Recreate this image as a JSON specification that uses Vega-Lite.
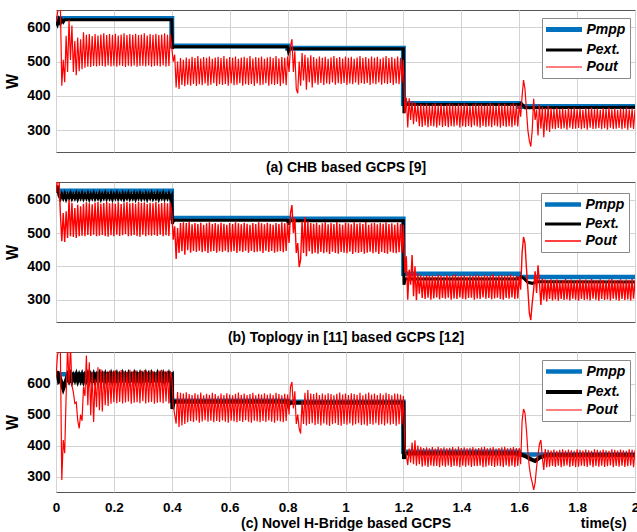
{
"$schema": "https://vega.github.io/schema/vega-lite/v6.json",
"padding": {"left": 4, "top": 9, "right": 0, "bottom": 0},
"background": "white",
"spacing": 30,
"bounds": "flush",
"datasets": {
"red": [
{"t":0,"a":615,"b":620,"c":620},{"t":0.005,"a":640,"b":660,"c":690},{"t":0.01,"a":665,"b":672,"c":720},{"t":0.015,"a":670,"b":560,"c":720},{"t":0.02,"a":430,"b":475,"c":289},{"t":0.025,"a":505,"b":560,"c":418},{"t":0.03,"a":440,"b":473,"c":375},{"t":0.035,"a":575,"b":565,"c":560},{"t":0.04,"a":470,"b":485,"c":720},{"t":0.045,"a":620,"b":600,"c":600},
{"t":0.05,"a":505,"b":490,"c":720},{"t":0.055,"a":605,"b":590,"c":595},{"t":0.06,"a":470,"b":488,"c":572},{"t":0.065,"a":560,"b":575,"c":536},{"t":0.07,"a":460,"b":485,"c":540},{"t":0.075,"a":570,"b":585,"c":482},{"t":0.08,"a":472,"b":490,"c":455},{"t":0.085,"a":565,"b":580,"c":500},{"t":0.09,"a":478,"b":492,"c":480},{"t":0.095,"a":585,"b":588,"c":589},
{"t":0.1,"a":482,"b":490,"c":560},{"t":0.105,"a":578,"b":592,"c":691},{"t":0.11,"a":485,"b":494,"c":530},{"t":0.115,"a":580,"b":589,"c":669},{"t":0.12,"a":484,"b":491,"c":498},{"t":0.125,"a":574,"b":586,"c":637},{"t":0.13,"a":487,"b":495,"c":476},{"t":0.135,"a":580,"b":591,"c":614},{"t":0.14,"a":486,"b":490,"c":524},{"t":0.145,"a":576,"b":593,"c":653},
{"t":0.15,"a":488,"b":492,"c":514},{"t":0.155,"a":579,"b":588,"c":646},{"t":0.16,"a":487,"b":494,"c":510},{"t":0.165,"a":582,"b":590,"c":640},{"t":0.17,"a":485,"b":491,"c":530},{"t":0.175,"a":577,"b":594,"c":636},{"t":0.18,"a":489,"b":489,"c":528},{"t":0.185,"a":580,"b":589,"c":642},{"t":0.19,"a":486,"b":493,"c":535},{"t":0.195,"a":578,"b":591,"c":639},
{"t":0.2,"a":488,"b":490,"c":540},{"t":0.205,"a":581,"b":588,"c":643},{"t":0.21,"a":485,"b":495,"c":537},{"t":0.215,"a":576,"b":592,"c":638},{"t":0.22,"a":489,"b":491,"c":541},{"t":0.225,"a":579,"b":587,"c":644},{"t":0.23,"a":487,"b":493,"c":536},{"t":0.235,"a":582,"b":590,"c":640},{"t":0.24,"a":484,"b":496,"c":539},{"t":0.245,"a":577,"b":593,"c":637},
{"t":0.25,"a":488,"b":490,"c":542},{"t":0.255,"a":580,"b":589,"c":645},{"t":0.26,"a":486,"b":492,"c":535},{"t":0.265,"a":578,"b":591,"c":639},{"t":0.27,"a":489,"b":494,"c":538},{"t":0.275,"a":581,"b":588,"c":642},{"t":0.28,"a":485,"b":491,"c":540},{"t":0.285,"a":577,"b":594,"c":636},{"t":0.29,"a":487,"b":489,"c":537},{"t":0.295,"a":579,"b":590,"c":641},
{"t":0.3,"a":488,"b":495,"c":543},{"t":0.305,"a":582,"b":592,"c":644},{"t":0.31,"a":486,"b":490,"c":536},{"t":0.315,"a":576,"b":587,"c":638},{"t":0.32,"a":489,"b":493,"c":539},{"t":0.325,"a":580,"b":591,"c":643},{"t":0.33,"a":485,"b":492,"c":541},{"t":0.335,"a":578,"b":589,"c":640},{"t":0.34,"a":487,"b":494,"c":535},{"t":0.345,"a":581,"b":593,"c":637},
{"t":0.35,"a":488,"b":491,"c":538},{"t":0.355,"a":577,"b":588,"c":642},{"t":0.36,"a":486,"b":495,"c":540},{"t":0.365,"a":579,"b":590,"c":645},{"t":0.37,"a":489,"b":490,"c":537},{"t":0.375,"a":582,"b":592,"c":639},{"t":0.38,"a":485,"b":493,"c":542},{"t":0.385,"a":578,"b":589,"c":641},{"t":0.39,"a":487,"b":491,"c":536},{"t":0.395,"a":580,"b":591,"c":640},
{"t":0.4,"a":540,"b":560,"c":620},{"t":0.405,"a":500,"b":480,"c":530},{"t":0.41,"a":520,"b":520,"c":500},{"t":0.415,"a":425,"b":422,"c":471},{"t":0.42,"a":500,"b":515,"c":573},{"t":0.425,"a":420,"b":440,"c":460},{"t":0.43,"a":510,"b":530,"c":570},{"t":0.435,"a":432,"b":445,"c":465},{"t":0.44,"a":505,"b":532,"c":568},{"t":0.445,"a":428,"b":435,"c":470},
{"t":0.45,"a":512,"b":530,"c":572},{"t":0.455,"a":433,"b":448,"c":475},{"t":0.46,"a":508,"b":533,"c":566},{"t":0.465,"a":430,"b":441,"c":479},{"t":0.47,"a":514,"b":526,"c":563},{"t":0.475,"a":435,"b":446,"c":476},{"t":0.48,"a":510,"b":530,"c":569},{"t":0.485,"a":429,"b":443,"c":481},{"t":0.49,"a":516,"b":527,"c":565},{"t":0.495,"a":434,"b":447,"c":474},
{"t":0.5,"a":509,"b":531,"c":571},{"t":0.505,"a":431,"b":442,"c":478},{"t":0.51,"a":513,"b":525,"c":562},{"t":0.515,"a":436,"b":445,"c":482},{"t":0.52,"a":511,"b":529,"c":567},{"t":0.525,"a":430,"b":440,"c":477},{"t":0.53,"a":515,"b":532,"c":564},{"t":0.535,"a":433,"b":444,"c":480},{"t":0.54,"a":508,"b":527,"c":570},{"t":0.545,"a":437,"b":446,"c":475},
{"t":0.55,"a":512,"b":530,"c":566},{"t":0.555,"a":429,"b":441,"c":479},{"t":0.56,"a":514,"b":526,"c":561},{"t":0.565,"a":434,"b":445,"c":476},{"t":0.57,"a":510,"b":531,"c":568},{"t":0.575,"a":432,"b":443,"c":481},{"t":0.58,"a":516,"b":528,"c":563},{"t":0.585,"a":435,"b":447,"c":477},{"t":0.59,"a":509,"b":525,"c":569},{"t":0.595,"a":430,"b":442,"c":474},
{"t":0.6,"a":513,"b":530,"c":565},{"t":0.605,"a":436,"b":444,"c":480},{"t":0.61,"a":511,"b":527,"c":562},{"t":0.615,"a":431,"b":446,"c":478},{"t":0.62,"a":515,"b":532,"c":567},{"t":0.625,"a":433,"b":440,"c":475},{"t":0.63,"a":508,"b":529,"c":571},{"t":0.635,"a":437,"b":445,"c":479},{"t":0.64,"a":512,"b":526,"c":564},{"t":0.645,"a":430,"b":443,"c":476},
{"t":0.65,"a":514,"b":531,"c":568},{"t":0.655,"a":434,"b":447,"c":482},{"t":0.66,"a":510,"b":528,"c":563},{"t":0.665,"a":432,"b":441,"c":477},{"t":0.67,"a":516,"b":525,"c":566},{"t":0.675,"a":435,"b":446,"c":474},{"t":0.68,"a":509,"b":530,"c":570},{"t":0.685,"a":429,"b":442,"c":480},{"t":0.69,"a":513,"b":527,"c":562},{"t":0.695,"a":436,"b":444,"c":478},
{"t":0.7,"a":511,"b":532,"c":567},{"t":0.705,"a":431,"b":445,"c":475},{"t":0.71,"a":515,"b":529,"c":565},{"t":0.715,"a":433,"b":440,"c":479},{"t":0.72,"a":508,"b":526,"c":569},{"t":0.725,"a":437,"b":447,"c":476},{"t":0.73,"a":512,"b":531,"c":564},{"t":0.735,"a":430,"b":443,"c":481},{"t":0.74,"a":514,"b":528,"c":568},{"t":0.745,"a":434,"b":446,"c":477},
{"t":0.75,"a":510,"b":525,"c":563},{"t":0.755,"a":432,"b":441,"c":474},{"t":0.76,"a":516,"b":530,"c":570},{"t":0.765,"a":435,"b":444,"c":480},{"t":0.77,"a":509,"b":527,"c":566},{"t":0.775,"a":429,"b":445,"c":478},{"t":0.78,"a":513,"b":532,"c":562},{"t":0.785,"a":436,"b":442,"c":475},{"t":0.79,"a":511,"b":529,"c":567},{"t":0.795,"a":431,"b":446,"c":479},
{"t":0.8,"a":515,"b":530,"c":565},{"t":0.805,"a":470,"b":470,"c":500},{"t":0.81,"a":545,"b":560,"c":590},{"t":0.815,"a":565,"b":584,"c":605},{"t":0.82,"a":470,"b":500,"c":520},{"t":0.825,"a":530,"b":545,"c":575},{"t":0.83,"a":420,"b":440,"c":470},{"t":0.835,"a":408,"b":470,"c":500},{"t":0.84,"a":500,"b":398,"c":455},{"t":0.845,"a":430,"b":420,"c":439},
{"t":0.85,"a":525,"b":535,"c":545},{"t":0.855,"a":445,"b":440,"c":470},{"t":0.86,"a":520,"b":548,"c":570},{"t":0.865,"a":418,"b":430,"c":465},{"t":0.87,"a":512,"b":535,"c":579},{"t":0.875,"a":440,"b":445,"c":470},{"t":0.88,"a":518,"b":530,"c":568},{"t":0.885,"a":425,"b":438,"c":472},{"t":0.89,"a":513,"b":528,"c":566},{"t":0.895,"a":437,"b":441,"c":466},
{"t":0.9,"a":509,"b":531,"c":570},{"t":0.905,"a":433,"b":438,"c":470},{"t":0.91,"a":515,"b":525,"c":563},{"t":0.915,"a":438,"b":443,"c":465},{"t":0.92,"a":511,"b":529,"c":568},{"t":0.925,"a":432,"b":439,"c":471},{"t":0.93,"a":514,"b":532,"c":564},{"t":0.935,"a":436,"b":442,"c":467},{"t":0.94,"a":508,"b":526,"c":569},{"t":0.945,"a":434,"b":437,"c":463},
{"t":0.95,"a":512,"b":530,"c":566},{"t":0.955,"a":439,"b":444,"c":469},{"t":0.96,"a":516,"b":527,"c":562},{"t":0.965,"a":433,"b":440,"c":472},{"t":0.97,"a":510,"b":533,"c":567},{"t":0.975,"a":437,"b":438,"c":466},{"t":0.98,"a":513,"b":528,"c":571},{"t":0.985,"a":435,"b":443,"c":464},{"t":0.99,"a":509,"b":525,"c":565},{"t":0.995,"a":438,"b":441,"c":470},
{"t":1,"a":515,"b":531,"c":568},{"t":1.005,"a":432,"b":439,"c":467},{"t":1.01,"a":511,"b":529,"c":563},{"t":1.015,"a":436,"b":444,"c":471},{"t":1.02,"a":514,"b":526,"c":569},{"t":1.025,"a":434,"b":437,"c":465},{"t":1.03,"a":508,"b":532,"c":566},{"t":1.035,"a":439,"b":442,"c":469},{"t":1.04,"a":512,"b":528,"c":564},{"t":1.045,"a":433,"b":440,"c":472},
{"t":1.05,"a":516,"b":530,"c":570},{"t":1.055,"a":437,"b":443,"c":466},{"t":1.06,"a":510,"b":527,"c":562},{"t":1.065,"a":435,"b":438,"c":468},{"t":1.07,"a":513,"b":533,"c":567},{"t":1.075,"a":438,"b":441,"c":464},{"t":1.08,"a":509,"b":525,"c":571},{"t":1.085,"a":432,"b":444,"c":470},{"t":1.09,"a":515,"b":529,"c":565},{"t":1.095,"a":436,"b":439,"c":467},
{"t":1.1,"a":511,"b":531,"c":568},{"t":1.105,"a":434,"b":442,"c":472},{"t":1.11,"a":514,"b":526,"c":563},{"t":1.115,"a":439,"b":437,"c":466},{"t":1.12,"a":508,"b":530,"c":569},{"t":1.125,"a":433,"b":443,"c":469},{"t":1.13,"a":512,"b":528,"c":564},{"t":1.135,"a":437,"b":440,"c":465},{"t":1.14,"a":516,"b":532,"c":570},{"t":1.145,"a":435,"b":438,"c":471},
{"t":1.15,"a":510,"b":527,"c":566},{"t":1.155,"a":438,"b":444,"c":467},{"t":1.16,"a":513,"b":529,"c":562},{"t":1.165,"a":432,"b":441,"c":470},{"t":1.17,"a":509,"b":525,"c":568},{"t":1.175,"a":436,"b":439,"c":464},{"t":1.18,"a":515,"b":531,"c":567},{"t":1.185,"a":434,"b":442,"c":469},{"t":1.19,"a":511,"b":528,"c":565},{"t":1.195,"a":439,"b":440,"c":468},
{"t":1.2,"a":505,"b":525,"c":560},{"t":1.205,"a":350,"b":380,"c":400},{"t":1.21,"a":395,"b":430,"c":370},{"t":1.215,"a":308,"b":300,"c":337},{"t":1.22,"a":393,"b":390,"c":390},{"t":1.225,"a":330,"b":345,"c":345},{"t":1.23,"a":385,"b":434,"c":410},{"t":1.235,"a":318,"b":310,"c":340},{"t":1.24,"a":380,"b":400,"c":417},{"t":1.245,"a":325,"b":298,"c":335},
{"t":1.25,"a":375,"b":380,"c":400},{"t":1.255,"a":312,"b":318,"c":340},{"t":1.26,"a":377,"b":372,"c":395},{"t":1.265,"a":310,"b":305,"c":332},{"t":1.27,"a":374,"b":370,"c":392},{"t":1.275,"a":314,"b":302,"c":335},{"t":1.28,"a":378,"b":374,"c":394},{"t":1.285,"a":309,"b":306,"c":331},{"t":1.29,"a":373,"b":371,"c":391},{"t":1.295,"a":313,"b":300,"c":336},
{"t":1.3,"a":376,"b":373,"c":395},{"t":1.305,"a":311,"b":304,"c":333},{"t":1.31,"a":379,"b":369,"c":390},{"t":1.315,"a":308,"b":307,"c":334},{"t":1.32,"a":374,"b":375,"c":396},{"t":1.325,"a":314,"b":301,"c":330},{"t":1.33,"a":377,"b":372,"c":392},{"t":1.335,"a":310,"b":305,"c":335},{"t":1.34,"a":372,"b":370,"c":394},{"t":1.345,"a":313,"b":303,"c":332},
{"t":1.35,"a":376,"b":374,"c":391},{"t":1.355,"a":309,"b":306,"c":336},{"t":1.36,"a":378,"b":371,"c":393},{"t":1.365,"a":312,"b":300,"c":331},{"t":1.37,"a":375,"b":373,"c":395},{"t":1.375,"a":311,"b":304,"c":334},{"t":1.38,"a":373,"b":376,"c":390},{"t":1.385,"a":314,"b":302,"c":333},{"t":1.39,"a":377,"b":370,"c":396},{"t":1.395,"a":308,"b":307,"c":330},
{"t":1.4,"a":374,"b":372,"c":392},{"t":1.405,"a":312,"b":303,"c":335},{"t":1.41,"a":379,"b":374,"c":394},{"t":1.415,"a":310,"b":301,"c":332},{"t":1.42,"a":376,"b":369,"c":391},{"t":1.425,"a":313,"b":305,"c":336},{"t":1.43,"a":372,"b":373,"c":393},{"t":1.435,"a":309,"b":306,"c":331},{"t":1.44,"a":375,"b":371,"c":395},{"t":1.445,"a":314,"b":300,"c":334},
{"t":1.45,"a":378,"b":375,"c":390},{"t":1.455,"a":311,"b":304,"c":333},{"t":1.46,"a":374,"b":372,"c":392},{"t":1.465,"a":308,"b":302,"c":335},{"t":1.47,"a":377,"b":370,"c":394},{"t":1.475,"a":313,"b":307,"c":330},{"t":1.48,"a":373,"b":374,"c":396},{"t":1.485,"a":310,"b":303,"c":332},{"t":1.49,"a":376,"b":371,"c":391},{"t":1.495,"a":312,"b":305,"c":336},
{"t":1.5,"a":379,"b":373,"c":393},{"t":1.505,"a":309,"b":301,"c":334},{"t":1.51,"a":375,"b":376,"c":395},{"t":1.515,"a":314,"b":304,"c":331},{"t":1.52,"a":372,"b":370,"c":390},{"t":1.525,"a":311,"b":306,"c":335},{"t":1.53,"a":378,"b":372,"c":392},{"t":1.535,"a":308,"b":302,"c":333},{"t":1.54,"a":374,"b":374,"c":394},{"t":1.545,"a":313,"b":300,"c":330},
{"t":1.55,"a":377,"b":371,"c":396},{"t":1.555,"a":310,"b":305,"c":336},{"t":1.56,"a":373,"b":373,"c":391},{"t":1.565,"a":312,"b":303,"c":332},{"t":1.57,"a":376,"b":375,"c":393},{"t":1.575,"a":309,"b":307,"c":335},{"t":1.58,"a":379,"b":370,"c":395},{"t":1.585,"a":314,"b":302,"c":331},{"t":1.59,"a":375,"b":372,"c":392},{"t":1.595,"a":311,"b":304,"c":334},
{"t":1.6,"a":372,"b":370,"c":392},{"t":1.605,"a":340,"b":330,"c":340},{"t":1.61,"a":400,"b":440,"c":480},{"t":1.615,"a":446,"b":488,"c":518},{"t":1.62,"a":420,"b":470,"c":505},{"t":1.625,"a":360,"b":395,"c":450},{"t":1.63,"a":300,"b":330,"c":380},{"t":1.635,"a":270,"b":260,"c":330},{"t":1.64,"a":253,"b":239,"c":300},{"t":1.645,"a":300,"b":290,"c":280},
{"t":1.65,"a":392,"b":330,"c":257},{"t":1.655,"a":330,"b":385,"c":280},{"t":1.66,"a":360,"b":320,"c":330},{"t":1.665,"a":285,"b":403,"c":370},{"t":1.67,"a":375,"b":350,"c":405},{"t":1.675,"a":305,"b":284,"c":418},{"t":1.68,"a":368,"b":363,"c":360},{"t":1.685,"a":280,"b":300,"c":321},{"t":1.69,"a":365,"b":360,"c":389},{"t":1.695,"a":300,"b":295,"c":330},
{"t":1.7,"a":372,"b":358,"c":386},{"t":1.705,"a":295,"b":302,"c":332},{"t":1.71,"a":365,"b":361,"c":384},{"t":1.715,"a":305,"b":298,"c":334},{"t":1.72,"a":362,"b":357,"c":387},{"t":1.725,"a":303,"b":301,"c":331},{"t":1.73,"a":366,"b":360,"c":383},{"t":1.735,"a":307,"b":297,"c":335},{"t":1.74,"a":361,"b":356,"c":386},{"t":1.745,"a":304,"b":302,"c":330},
{"t":1.75,"a":364,"b":359,"c":388},{"t":1.755,"a":306,"b":299,"c":333},{"t":1.76,"a":360,"b":362,"c":384},{"t":1.765,"a":302,"b":301,"c":336},{"t":1.77,"a":365,"b":357,"c":387},{"t":1.775,"a":308,"b":298,"c":331},{"t":1.78,"a":362,"b":360,"c":385},{"t":1.785,"a":304,"b":303,"c":334},{"t":1.79,"a":366,"b":356,"c":383},{"t":1.795,"a":305,"b":300,"c":330},
{"t":1.8,"a":361,"b":359,"c":388},{"t":1.805,"a":307,"b":297,"c":332},{"t":1.81,"a":364,"b":361,"c":386},{"t":1.815,"a":303,"b":302,"c":335},{"t":1.82,"a":360,"b":357,"c":384},{"t":1.825,"a":306,"b":299,"c":333},{"t":1.83,"a":365,"b":360,"c":387},{"t":1.835,"a":302,"b":301,"c":331},{"t":1.84,"a":362,"b":356,"c":385},{"t":1.845,"a":308,"b":298,"c":336},
{"t":1.85,"a":366,"b":362,"c":383},{"t":1.855,"a":304,"b":303,"c":330},{"t":1.86,"a":361,"b":358,"c":388},{"t":1.865,"a":305,"b":300,"c":334},{"t":1.87,"a":364,"b":357,"c":386},{"t":1.875,"a":307,"b":297,"c":332},{"t":1.88,"a":360,"b":361,"c":384},{"t":1.885,"a":303,"b":302,"c":335},{"t":1.89,"a":365,"b":359,"c":387},{"t":1.895,"a":306,"b":299,"c":331},
{"t":1.9,"a":362,"b":356,"c":385},{"t":1.905,"a":302,"b":301,"c":333},{"t":1.91,"a":366,"b":360,"c":383},{"t":1.915,"a":308,"b":298,"c":336},{"t":1.92,"a":361,"b":362,"c":388},{"t":1.925,"a":304,"b":303,"c":330},{"t":1.93,"a":364,"b":357,"c":386},{"t":1.935,"a":305,"b":300,"c":334},{"t":1.94,"a":360,"b":359,"c":384},{"t":1.945,"a":307,"b":297,"c":332},
{"t":1.95,"a":365,"b":361,"c":387},{"t":1.955,"a":303,"b":302,"c":335},{"t":1.96,"a":362,"b":356,"c":385},{"t":1.965,"a":306,"b":299,"c":331},{"t":1.97,"a":366,"b":360,"c":383},{"t":1.975,"a":302,"b":301,"c":333},{"t":1.98,"a":361,"b":358,"c":388},{"t":1.985,"a":308,"b":298,"c":336},{"t":1.99,"a":364,"b":362,"c":386},{"t":1.995,"a":304,"b":303,"c":330},
{"t":2,"a":360,"b":357,"c":385}
],
"ampp": [{"t":0,"v":625},{"t":0.4,"v":625},{"t":0.4,"v":545},{"t":0.8,"v":545},{"t":0.8,"v":539},{"t":1.2,"v":539},{"t":1.2,"v":378},{"t":1.6,"v":378},{"t":1.6,"v":369},{"t":2,"v":369}],
"aext": [{"t":0,"v":618},{"t":0.005,"v":608},{"t":0.01,"v":622},{"t":0.015,"v":611},{"t":0.02,"v":621},{"t":0.025,"v":615},{"t":0.03,"v":622},{"t":0.4,"v":622},{"t":0.402,"v":538},{"t":0.405,"v":543},{"t":0.8,"v":543},{"t":0.803,"v":530},{"t":0.806,"v":537},{"t":1.2,"v":537},{"t":1.202,"v":350},{"t":1.206,"v":375},{"t":1.6,"v":375},{"t":1.607,"v":379},{"t":1.62,"v":366},{"t":2,"v":367}],
"bmpp": [{"t":0,"v":627},{"t":0.4,"v":627},{"t":0.4,"v":545},{"t":0.8,"v":545},{"t":0.8,"v":543},{"t":1.2,"v":543},{"t":1.2,"v":378},{"t":1.6,"v":378},{"t":1.6,"v":368},{"t":2,"v":368}],
"bext": [{"t":0,"v":625},{"t":0.005,"v":642},{"t":0.01,"v":614},{"t":0.015,"v":604},{"t":0.02,"v":616},{"t":0.025,"v":605},{"t":0.03,"v":617},{"t":0.035,"v":603},{"t":0.04,"v":615},{"t":0.045,"v":606},{"t":0.05,"v":618},{"t":0.055,"v":604},{"t":0.06,"v":615},{"t":0.065,"v":605},{"t":0.07,"v":617},{"t":0.075,"v":603},{"t":0.08,"v":616},{"t":0.085,"v":606},{"t":0.09,"v":618},{"t":0.095,"v":604},{"t":0.1,"v":615},{"t":0.105,"v":605},{"t":0.11,"v":617},{"t":0.115,"v":603},{"t":0.12,"v":616},{"t":0.125,"v":606},{"t":0.13,"v":618},{"t":0.135,"v":604},{"t":0.14,"v":615},{"t":0.145,"v":605},{"t":0.15,"v":617},{"t":0.155,"v":603},{"t":0.16,"v":616},{"t":0.165,"v":606},{"t":0.17,"v":618},{"t":0.175,"v":604},{"t":0.18,"v":615},{"t":0.185,"v":605},{"t":0.19,"v":617},{"t":0.195,"v":603},{"t":0.2,"v":616},{"t":0.205,"v":606},{"t":0.21,"v":618},{"t":0.215,"v":604},{"t":0.22,"v":615},{"t":0.225,"v":605},{"t":0.23,"v":617},{"t":0.235,"v":603},{"t":0.24,"v":616},{"t":0.245,"v":606},{"t":0.25,"v":618},{"t":0.255,"v":604},{"t":0.26,"v":615},{"t":0.265,"v":605},{"t":0.27,"v":617},{"t":0.275,"v":603},{"t":0.28,"v":616},{"t":0.285,"v":606},{"t":0.29,"v":618},{"t":0.295,"v":604},{"t":0.3,"v":615},{"t":0.305,"v":605},{"t":0.31,"v":617},{"t":0.315,"v":603},{"t":0.32,"v":616},{"t":0.325,"v":606},{"t":0.33,"v":618},{"t":0.335,"v":604},{"t":0.34,"v":615},{"t":0.345,"v":605},{"t":0.35,"v":617},{"t":0.355,"v":603},{"t":0.36,"v":616},{"t":0.365,"v":606},{"t":0.37,"v":618},{"t":0.375,"v":604},{"t":0.38,"v":615},{"t":0.385,"v":605},{"t":0.39,"v":617},{"t":0.395,"v":604},{"t":0.4,"v":612},{"t":0.402,"v":528},{"t":0.406,"v":538},{"t":0.8,"v":538},{"t":0.803,"v":525},{"t":0.807,"v":537},{"t":1.2,"v":537},{"t":1.202,"v":345},{"t":1.206,"v":362},{"t":1.6,"v":362},{"t":1.606,"v":369},{"t":1.615,"v":365},{"t":1.63,"v":352},{"t":1.645,"v":349},{"t":1.66,"v":354},{"t":2,"v":353}],
"cmpp": [{"t":0,"v":630},{"t":0.4,"v":630},{"t":0.4,"v":545},{"t":0.8,"v":545},{"t":0.8,"v":541},{"t":1.2,"v":541},{"t":1.2,"v":380},{"t":1.6,"v":380},{"t":1.6,"v":371},{"t":2,"v":371}],
"cext": [{"t":0,"v":626},{"t":0.005,"v":640},{"t":0.01,"v":609},{"t":0.015,"v":614},{"t":0.02,"v":600},{"t":0.025,"v":584},{"t":0.03,"v":597},{"t":0.035,"v":611},{"t":0.04,"v":625},{"t":0.045,"v":612},{"t":0.05,"v":626},{"t":0.055,"v":610},{"t":0.06,"v":624},{"t":0.065,"v":613},{"t":0.07,"v":627},{"t":0.075,"v":611},{"t":0.08,"v":625},{"t":0.085,"v":612},{"t":0.09,"v":626},{"t":0.095,"v":610},{"t":0.1,"v":624},{"t":0.105,"v":613},{"t":0.11,"v":627},{"t":0.115,"v":611},{"t":0.12,"v":625},{"t":0.125,"v":612},{"t":0.13,"v":626},{"t":0.135,"v":610},{"t":0.14,"v":624},{"t":0.145,"v":613},{"t":0.15,"v":627},{"t":0.155,"v":611},{"t":0.16,"v":625},{"t":0.165,"v":612},{"t":0.17,"v":626},{"t":0.175,"v":610},{"t":0.18,"v":624},{"t":0.185,"v":613},{"t":0.19,"v":627},{"t":0.195,"v":611},{"t":0.2,"v":625},{"t":0.205,"v":612},{"t":0.21,"v":626},{"t":0.215,"v":610},{"t":0.22,"v":624},{"t":0.225,"v":613},{"t":0.23,"v":627},{"t":0.235,"v":611},{"t":0.24,"v":625},{"t":0.245,"v":612},{"t":0.25,"v":626},{"t":0.255,"v":610},{"t":0.26,"v":624},{"t":0.265,"v":613},{"t":0.27,"v":627},{"t":0.275,"v":611},{"t":0.28,"v":625},{"t":0.285,"v":612},{"t":0.29,"v":626},{"t":0.295,"v":610},{"t":0.3,"v":624},{"t":0.305,"v":613},{"t":0.31,"v":627},{"t":0.315,"v":611},{"t":0.32,"v":625},{"t":0.325,"v":612},{"t":0.33,"v":626},{"t":0.335,"v":610},{"t":0.34,"v":624},{"t":0.345,"v":613},{"t":0.35,"v":627},{"t":0.355,"v":611},{"t":0.36,"v":625},{"t":0.365,"v":612},{"t":0.37,"v":626},{"t":0.375,"v":610},{"t":0.38,"v":624},{"t":0.385,"v":613},{"t":0.39,"v":627},{"t":0.395,"v":612},{"t":0.4,"v":620},{"t":0.402,"v":518},{"t":0.406,"v":541},{"t":0.8,"v":541},{"t":0.803,"v":532},{"t":0.806,"v":538},{"t":1.2,"v":538},{"t":1.202,"v":357},{"t":1.206,"v":374},{"t":1.6,"v":374},{"t":1.62,"v":366},{"t":1.64,"v":356},{"t":1.655,"v":350},{"t":1.67,"v":361},{"t":1.7,"v":369},{"t":2,"v":369}]
},
"vconcat": [
{
"width": 579, "height": 142,
"encoding": {"x": {"field": "t", "type": "quantitative", "scale": {"domain": [0, 2], "nice": false}, "axis": {"values": [0,0.2,0.4,0.6,0.8,1,1.2,1.4,1.6,1.8,2], "labels": false, "title": "(a) CHB based GCPS [9]", "titlePadding": 8}}},
"layer": [
{"data": {"name": "ampp"}, "mark": {"type": "line", "clip": true},
 "encoding": {"y": {"field": "v", "type": "quantitative", "scale": {"domain": [237, 650], "nice": false, "zero": false}, "axis": {"values": [300,400,500,600], "title": "W"}},
  "color": {"datum": "Pmpp", "type": "nominal", "scale": {"domain": ["Pmpp","Pext.","Pout"], "range": ["#0072BD","#000000","#FF0000"]}, "legend": {"title": null, "orient": "none", "legendX": 486, "legendY": 8, "padding": 4, "fillColor": "#ffffff", "strokeColor": "#8a8a8a", "cornerRadius": 0, "labelFont": "Liberation Sans", "labelFontSize": 14, "labelFontWeight": "bold", "labelFontStyle": "italic", "labelColor": "#000000", "symbolType": "M-3.6,0L3.6,0", "symbolSize": 100, "symbolOffset": 10.5, "labelOffset": 15, "rowPadding": 3}},
  "strokeWidth": {"datum": "Pmpp", "type": "nominal", "scale": {"type": "ordinal", "domain": ["Pmpp","Pext.","Pout"], "range": [5, 3, 1.2]}, "legend": {"title": null, "orient": "none", "legendX": 486, "legendY": 8, "padding": 4, "fillColor": "#ffffff", "strokeColor": "#8a8a8a", "cornerRadius": 0, "labelFont": "Liberation Sans", "labelFontSize": 14, "labelFontWeight": "bold", "labelFontStyle": "italic", "labelColor": "#000000", "symbolType": "M-3.6,0L3.6,0", "symbolSize": 100, "symbolOffset": 10.5, "labelOffset": 15, "rowPadding": 3}}}},
{"data": {"name": "aext"}, "mark": {"type": "line", "clip": true},
 "encoding": {"y": {"field": "v", "type": "quantitative", "scale": {"domain": [237, 650], "nice": false, "zero": false}, "axis": {"values": [300,400,500,600], "title": "W"}},
  "color": {"datum": "Pext.", "type": "nominal", "scale": {"domain": ["Pmpp","Pext.","Pout"], "range": ["#0072BD","#000000","#FF0000"]}},
  "strokeWidth": {"datum": "Pext.", "type": "nominal", "scale": {"type": "ordinal", "domain": ["Pmpp","Pext.","Pout"], "range": [5, 3, 1.2]}}}},
{"data": {"name": "red"}, "mark": {"type": "line", "clip": true},
 "encoding": {"y": {"field": "a", "type": "quantitative", "scale": {"domain": [237, 650], "nice": false, "zero": false}, "axis": {"values": [300,400,500,600], "title": "W"}},
  "color": {"datum": "Pout", "type": "nominal", "scale": {"domain": ["Pmpp","Pext.","Pout"], "range": ["#0072BD","#000000","#FF0000"]}},
  "strokeWidth": {"datum": "Pout", "type": "nominal", "scale": {"type": "ordinal", "domain": ["Pmpp","Pext.","Pout"], "range": [5, 3, 1.2]}}}}
]
},
{
"width": 579, "height": 140,
"encoding": {"x": {"field": "t", "type": "quantitative", "scale": {"domain": [0, 2], "nice": false}, "axis": {"values": [0,0.2,0.4,0.6,0.8,1,1.2,1.4,1.6,1.8,2], "labels": false, "title": "(b) Toplogy in [11] based GCPS [12]", "titlePadding": 8}}},
"layer": [
{"data": {"name": "bmpp"}, "mark": {"type": "line", "clip": true},
 "encoding": {"y": {"field": "v", "type": "quantitative", "scale": {"domain": [233, 653], "nice": false, "zero": false}, "axis": {"values": [300,400,500,600], "title": "W"}},
  "color": {"datum": "Pmpp", "type": "nominal", "scale": {"domain": ["Pmpp","Pext.","Pout"], "range": ["#0072BD","#000000","#FF0000"]}, "legend": {"title": null, "orient": "none", "legendX": 485, "legendY": 11, "padding": 4, "fillColor": "#ffffff", "strokeColor": "#8a8a8a", "cornerRadius": 0, "labelFont": "Liberation Sans", "labelFontSize": 14, "labelFontWeight": "bold", "labelFontStyle": "italic", "labelColor": "#000000", "symbolType": "M-3.6,0L3.6,0", "symbolSize": 100, "symbolOffset": 10.5, "labelOffset": 15, "rowPadding": 3, "labelExpr": "datum.label + '   '"}},
  "strokeWidth": {"datum": "Pmpp", "type": "nominal", "scale": {"type": "ordinal", "domain": ["Pmpp","Pext.","Pout"], "range": [4.5, 3, 1.4]}, "legend": {"title": null, "orient": "none", "legendX": 485, "legendY": 11, "padding": 4, "fillColor": "#ffffff", "strokeColor": "#8a8a8a", "cornerRadius": 0, "labelFont": "Liberation Sans", "labelFontSize": 14, "labelFontWeight": "bold", "labelFontStyle": "italic", "labelColor": "#000000", "symbolType": "M-3.6,0L3.6,0", "symbolSize": 100, "symbolOffset": 10.5, "labelOffset": 15, "rowPadding": 3, "labelExpr": "datum.label + '   '"}}}},
{"data": {"name": "bext"}, "mark": {"type": "line", "clip": true},
 "encoding": {"y": {"field": "v", "type": "quantitative", "scale": {"domain": [233, 653], "nice": false, "zero": false}, "axis": {"values": [300,400,500,600], "title": "W"}},
  "color": {"datum": "Pext.", "type": "nominal", "scale": {"domain": ["Pmpp","Pext.","Pout"], "range": ["#0072BD","#000000","#FF0000"]}},
  "strokeWidth": {"datum": "Pext.", "type": "nominal", "scale": {"type": "ordinal", "domain": ["Pmpp","Pext.","Pout"], "range": [4.5, 3, 1.4]}}}},
{"data": {"name": "red"}, "mark": {"type": "line", "clip": true},
 "encoding": {"y": {"field": "b", "type": "quantitative", "scale": {"domain": [233, 653], "nice": false, "zero": false}, "axis": {"values": [300,400,500,600], "title": "W"}},
  "color": {"datum": "Pout", "type": "nominal", "scale": {"domain": ["Pmpp","Pext.","Pout"], "range": ["#0072BD","#000000","#FF0000"]}},
  "strokeWidth": {"datum": "Pout", "type": "nominal", "scale": {"type": "ordinal", "domain": ["Pmpp","Pext.","Pout"], "range": [4.5, 3, 1.4]}}}}
]
},
{
"width": 579, "height": 140,
"title": {"text": "time(s)", "orient": "bottom", "anchor": "end", "offset": -14, "dx": -12, "fontSize": 14, "fontWeight": "bold", "font": "Liberation Sans", "color": "#000000"},
"encoding": {"x": {"field": "t", "type": "quantitative", "scale": {"domain": [0, 2], "nice": false}, "axis": {"values": [0,0.2,0.4,0.6,0.8,1,1.2,1.4,1.6,1.8,2], "format": "~g", "labelFlush": false, "labelFontSize": 13.5, "labelPadding": 8, "title": "(c) Novel H-Bridge based GCPS", "titlePadding": 3}}},
"layer": [
{"data": {"name": "cmpp"}, "mark": {"type": "line", "clip": true},
 "encoding": {"y": {"field": "v", "type": "quantitative", "scale": {"domain": [250, 702], "nice": false, "zero": false}, "axis": {"values": [300,400,500,600], "title": "W"}},
  "color": {"datum": "Pmpp", "type": "nominal", "scale": {"domain": ["Pmpp","Pext.","Pout"], "range": ["#0072BD","#000000","#FF0000"]}, "legend": {"title": null, "orient": "none", "legendX": 486, "legendY": 8, "padding": 4, "fillColor": "#ffffff", "strokeColor": "#8a8a8a", "cornerRadius": 0, "labelFont": "Liberation Sans", "labelFontSize": 14, "labelFontWeight": "bold", "labelFontStyle": "italic", "labelColor": "#000000", "symbolType": "M-3.6,0L3.6,0", "symbolSize": 100, "symbolOffset": 10.5, "labelOffset": 15, "rowPadding": 3, "labelExpr": "datum.label + '   '"}},
  "strokeWidth": {"datum": "Pmpp", "type": "nominal", "scale": {"type": "ordinal", "domain": ["Pmpp","Pext.","Pout"], "range": [4.5, 4, 1.2]}, "legend": {"title": null, "orient": "none", "legendX": 486, "legendY": 8, "padding": 4, "fillColor": "#ffffff", "strokeColor": "#8a8a8a", "cornerRadius": 0, "labelFont": "Liberation Sans", "labelFontSize": 14, "labelFontWeight": "bold", "labelFontStyle": "italic", "labelColor": "#000000", "symbolType": "M-3.6,0L3.6,0", "symbolSize": 100, "symbolOffset": 10.5, "labelOffset": 15, "rowPadding": 3, "labelExpr": "datum.label + '   '"}}}},
{"data": {"name": "cext"}, "mark": {"type": "line", "clip": true},
 "encoding": {"y": {"field": "v", "type": "quantitative", "scale": {"domain": [250, 702], "nice": false, "zero": false}, "axis": {"values": [300,400,500,600], "title": "W"}},
  "color": {"datum": "Pext.", "type": "nominal", "scale": {"domain": ["Pmpp","Pext.","Pout"], "range": ["#0072BD","#000000","#FF0000"]}},
  "strokeWidth": {"datum": "Pext.", "type": "nominal", "scale": {"type": "ordinal", "domain": ["Pmpp","Pext.","Pout"], "range": [4.5, 4, 1.2]}}}},
{"data": {"name": "red"}, "mark": {"type": "line", "clip": true},
 "encoding": {"y": {"field": "c", "type": "quantitative", "scale": {"domain": [250, 702], "nice": false, "zero": false}, "axis": {"values": [300,400,500,600], "title": "W"}},
  "color": {"datum": "Pout", "type": "nominal", "scale": {"domain": ["Pmpp","Pext.","Pout"], "range": ["#0072BD","#000000","#FF0000"]}},
  "strokeWidth": {"datum": "Pout", "type": "nominal", "scale": {"type": "ordinal", "domain": ["Pmpp","Pext.","Pout"], "range": [4.5, 4, 1.2]}}}}
]
}
],
"resolve": {"scale": {"color": "independent", "strokeWidth": "independent"}, "legend": {"color": "independent", "strokeWidth": "independent"}},
"config": {
"font": "Liberation Sans",
"view": {"stroke": "#555555", "strokeWidth": 1},
"axis": {"labelFont": "Liberation Sans", "labelFontWeight": "bold", "labelFontSize": 14, "labelColor": "#000000", "titleFont": "Liberation Sans", "titleFontWeight": "bold", "titleFontSize": 14, "titleColor": "#000000", "grid": true, "gridColor": "#d3d3d3", "gridWidth": 1, "ticks": false, "domain": false},
"axisY": {"titleFontSize": 16, "labelPadding": 6, "titlePadding": 6}
}
}
